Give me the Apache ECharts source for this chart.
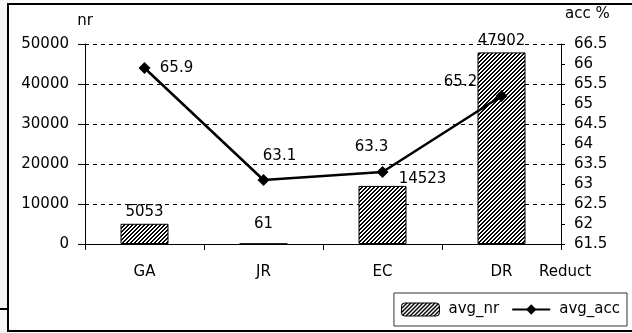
<!DOCTYPE html>
<html>
<head>
<meta charset="utf-8">
<script src="https://cdn.jsdelivr.net/npm/echarts@6/dist/echarts.min.js"></script>
<style>
  html, body { margin: 0; padding: 0; background: #ffffff; }
  #chart { width: 632px; height: 333px; }
</style>
</head>
<body>
<div id="chart"></div>
<script>
// Reduction methods and their averages
const categories = ['GA', 'JR', 'EC', 'DR'];
const avgNr = [5053, 61, 14523, 47902];
const avgAcc = [65.9, 63.1, 63.3, 65.2];
const nrTicks = { min: 0, max: 50000, interval: 10000 };
const accTicks = { min: 61.5, max: 66.5, interval: 0.5 };

// Diagonal hatch fill for the bars
function hatchPattern() {
  const c = document.createElement('canvas');
  c.width = 4; c.height = 4;
  const ctx = c.getContext('2d');
  const img = ctx.createImageData(4, 4);
  for (let y = 0; y < 4; y++) {
    for (let x = 0; x < 4; x++) {
      const i = (y * 4 + x) * 4;
      const on = ((x + y) % 4) < 2;
      const v = on ? 0 : 255;
      img.data[i] = v; img.data[i + 1] = v; img.data[i + 2] = v; img.data[i + 3] = 255;
    }
  }
  ctx.putImageData(img, 0, 0);
  return { image: c, repeat: 'repeat' };
}
const hatch = hatchPattern();

const FONT = '"DejaVu Sans", Verdana, sans-serif';
const textBase = { fontFamily: FONT, fontSize: 15, color: '#000' };

// Individual label placements for the bar values
const barLabelOffsets = [[0, 0], [0, -8], [40, 5], [0, 0]];
// Individual label placements for the accuracy values
const lineLabelOffsets = [[32, 0], [16, -24], [-11, -25], [-41, -14]];

const chart = echarts.init(document.getElementById('chart'), null, { renderer: 'canvas' });

chart.setOption({
  animation: false,
  backgroundColor: '#ffffff',
  grid: { left: 85, right: 71, top: 44, bottom: 89 },
  graphic: [
    { type: 'rect', shape: { x: 0, y: 0, width: 8, height: 333 }, style: { fill: '#f6f6f6' }, silent: true },
    { type: 'rect', shape: { x: 8, y: 4, width: 630, height: 327 }, style: { fill: 'none', stroke: '#000', lineWidth: 2 }, silent: true, z: 10 },
    { type: 'line', shape: { x1: 0, y1: 309, x2: 8, y2: 309 }, style: { stroke: '#000', lineWidth: 2 }, silent: true, z: 10 }
  ],
  legend: {
    right: 5,
    top: 293,
    padding: [9, 7, 9, 7],
    itemWidth: 38,
    itemHeight: 13,
    itemGap: 12,
    borderColor: '#333',
    borderWidth: 1,
    borderRadius: 0,
    backgroundColor: '#fff',
    textStyle: Object.assign({}, textBase, { padding: [0, 0, 0, 4] }),
    data: [
      { name: 'avg_nr', itemStyle: { color: hatch, borderColor: '#000', borderWidth: 1 } },
      { name: 'avg_acc' }
    ]
  },
  xAxis: {
    type: 'category',
    data: categories,
    name: 'Reduct',
    nameLocation: 'end',
    nameGap: 4,
    nameTextStyle: Object.assign({}, textBase, { align: 'center', verticalAlign: 'top', padding: [21, 0, 0, 0] }),
    axisLine: { lineStyle: { color: '#000', width: 1 } },
    axisTick: { show: true, length: 6, lineStyle: { color: '#000' } },
    axisLabel: Object.assign({}, textBase, { margin: 21 }),
    splitLine: { show: false }
  },
  yAxis: [
    {
      type: 'value',
      min: nrTicks.min, max: nrTicks.max, interval: nrTicks.interval,
      name: 'nr',
      nameLocation: 'end',
      nameGap: 15,
      nameTextStyle: Object.assign({}, textBase, { align: 'center' }),
      axisLine: { show: true, lineStyle: { color: '#000' } },
      axisTick: { show: true, length: 7, lineStyle: { color: '#000' } },
      axisLabel: Object.assign({}, textBase, { margin: 16, formatter: v => String(v) }),
      splitLine: { show: true, lineStyle: { color: '#000', type: [4, 4], width: 1 } }
    },
    {
      type: 'value',
      min: accTicks.min, max: accTicks.max, interval: accTicks.interval,
      name: 'acc %',
      nameLocation: 'end',
      nameGap: 22,
      nameTextStyle: Object.assign({}, textBase, { align: 'left', padding: [0, 0, 0, 4] }),
      position: 'right',
      axisLine: { show: true, lineStyle: { color: '#000' } },
      axisTick: { show: true, length: 4, lineStyle: { color: '#000' } },
      axisLabel: Object.assign({}, textBase, { margin: 13, formatter: v => String(v) }),
      splitLine: { show: false }
    }
  ],
  series: [
    {
      name: 'avg_nr',
      type: 'bar',
      yAxisIndex: 0,
      barWidth: 48,
      itemStyle: { color: hatch, borderColor: '#000', borderWidth: 1 },
      data: avgNr.map((v, i) => ({
        value: v,
        label: { show: true, position: 'top', distance: 4, offset: barLabelOffsets[i] }
      })),
      label: Object.assign({}, textBase, { show: true })
    },
    {
      name: 'avg_acc',
      type: 'line',
      yAxisIndex: 1,
      symbol: 'diamond',
      symbolSize: 12,
      lineStyle: { color: '#000', width: 2.5 },
      itemStyle: { color: '#000' },
      data: avgAcc.map((v, i) => ({
        value: v,
        label: { show: true, position: 'inside', offset: lineLabelOffsets[i] }
      })),
      label: Object.assign({}, textBase, { show: true }),
      z: 5
    }
  ]
});
</script>
</body>
</html>
